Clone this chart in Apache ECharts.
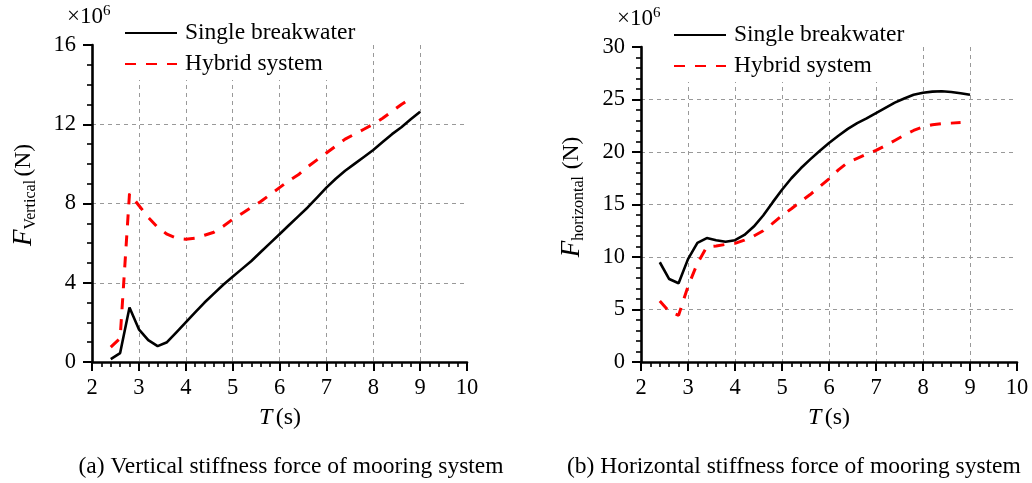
<!DOCTYPE html>
<html>
<head>
<meta charset="utf-8">
<script src="https://cdn.jsdelivr.net/npm/echarts@6/dist/echarts.min.js"></script>
<style>
html,body{margin:0;padding:0;background:#fff;}
#c{width:1032px;height:483px;}
</style>
</head>
<body>
<div id="c"></div>
<script>
// ---- data ----
const periodsV_single = [2.4,2.6,2.8,3.0,3.2,3.4,3.6,3.8,4.0,4.2,4.4,4.6,4.8,5.0,5.2,5.4,5.6,5.8,6.0,6.2,6.4,6.6,6.8,7.0,7.2,7.4,7.6,7.8,8.0,8.2,8.4,8.6,8.8,9.0];
const vertical_single = [0.15,0.45,2.75,1.65,1.1,0.8,1.0,1.5,2.0,2.5,3.0,3.45,3.9,4.3,4.7,5.1,5.55,6.0,6.45,6.9,7.35,7.8,8.3,8.8,9.25,9.65,10.0,10.35,10.7,11.1,11.5,11.85,12.25,12.63];
const periodsV_hybrid = [2.4,2.6,2.8,3.0,3.2,3.4,3.6,3.8,4.0,4.2,4.4,4.6,4.8,5.0,5.2,5.4,5.6,5.8,6.0,6.2,6.4,6.6,6.8,7.0,7.2,7.4,7.6,7.8,8.0,8.2,8.4,8.6,8.8];
const vertical_hybrid = [0.75,1.2,8.5,7.9,7.3,6.8,6.45,6.25,6.2,6.25,6.4,6.55,6.85,7.2,7.5,7.8,8.1,8.45,8.8,9.15,9.45,9.85,10.2,10.55,10.9,11.25,11.5,11.75,12.0,12.3,12.65,13.0,13.3];

const periodsH_single = [2.4,2.6,2.8,3.0,3.2,3.4,3.6,3.8,4.0,4.2,4.4,4.6,4.8,5.0,5.2,5.4,5.6,5.8,6.0,6.2,6.4,6.6,6.8,7.0,7.2,7.4,7.6,7.8,8.0,8.2,8.4,8.6,8.8,9.0];
const horizontal_single = [9.5,7.9,7.5,9.8,11.35,11.8,11.6,11.45,11.6,12.1,12.9,13.95,15.2,16.4,17.5,18.45,19.3,20.1,20.85,21.55,22.2,22.75,23.2,23.7,24.2,24.7,25.1,25.45,25.65,25.75,25.78,25.72,25.6,25.45];
const periodsH_hybrid = [2.4,2.6,2.8,3.0,3.2,3.4,3.6,3.8,4.0,4.2,4.4,4.6,4.8,5.0,5.2,5.4,5.6,5.8,6.0,6.2,6.4,6.6,6.8,7.0,7.2,7.4,7.6,7.8,8.0,8.2,8.4,8.6,8.8];
const horizontal_hybrid = [5.8,4.8,4.45,7.2,9.4,10.95,11.05,11.2,11.3,11.6,12.0,12.5,13.2,13.95,14.6,15.3,15.95,16.7,17.45,18.3,19.0,19.4,19.8,20.15,20.6,21.1,21.6,22.05,22.4,22.6,22.7,22.75,22.8];

const seriesNames = ['Single breakwater','Hybrid system'];
const xTicks = {min:2, max:10, interval:1};
const yTicksV = {min:0, max:16, interval:4};
const yTicksH = {min:0, max:30, interval:5};
const captions = ['(a) Vertical stiffness force of mooring system','(b) Horizontal stiffness force of mooring system'];

// ---- chart ----
const FONT = '"Liberation Serif","Times New Roman",serif';
const zip = (xs, ys) => xs.map((x,i)=>[x, ys[i]]);

function xAxisCfg(gi){
  return {
    type:'value', gridIndex:gi, min:xTicks.min, max:xTicks.max, interval:xTicks.interval,
    axisLine:{show:true, onZero:false, lineStyle:{color:'#000', width:2.6}},
    axisTick:{show:true, inside:false, length:9, lineStyle:{color:'#000', width:2}},
    minorTick:{show:true, splitNumber:5, length:5, lineStyle:{color:'#000', width:1.6}},
    axisLabel:{color:'#000', fontFamily:FONT, fontSize:22.5, margin:15},
    splitLine:{show:true, showMinLine:false, showMaxLine:false, lineStyle:{color:'#999', type:[4,4], width:1}}
  };
}
function yAxisCfg(gi, t, minorSplit){
  return {
    type:'value', gridIndex:gi, min:t.min, max:t.max, interval:t.interval,
    axisLine:{show:true, onZero:false, lineStyle:{color:'#000', width:2.6}},
    axisTick:{show:true, inside:false, length:9, lineStyle:{color:'#000', width:2}},
    minorTick:{show:true, splitNumber:minorSplit, length:5, lineStyle:{color:'#000', width:1.6}},
    axisLabel:{color:'#000', fontFamily:FONT, fontSize:22.5, margin:16},
    splitLine:{show:true, showMinLine:false, showMaxLine:false, lineStyle:{color:'#999', type:[4,4], width:1}}
  };
}
function lineSeries(name, gi, data, dashed){
  return {
    name, type:'line', xAxisIndex:gi, yAxisIndex:gi, data, symbol:'none', showSymbol:false, smooth:false,
    lineStyle: dashed ? {color:'#ff0000', width:3, type:[11,10]} : {color:'#000', width:2.6},
    itemStyle:{color: dashed ? '#ff0000' : '#000'},
    z:3
  };
}
function legendCfg(left, top){
  return {
    orient:'vertical', left, top, data:seriesNames,
    itemWidth:52, itemHeight:14, itemGap:7,
    backgroundColor:'#fff', padding:[4,8,4,4],
    itemStyle:{opacity:0, borderWidth:0},
    textStyle:{fontFamily:FONT, fontSize:23.5, color:'#000', lineHeight:23, padding:[0,0,0,3]},
    z:10
  };
}
const richBase = {
  F:{fontFamily:FONT, fontStyle:'italic', fontSize:27, color:'#000', lineHeight:30},
  sub:{fontFamily:FONT, fontSize:16, color:'#000', verticalAlign:'bottom', lineHeight:16},
  n:{fontFamily:FONT, fontSize:23.5, color:'#000', lineHeight:30}
};
const richSci = {
  m:{fontFamily:FONT, fontSize:23, color:'#000', lineHeight:26},
  sup:{fontFamily:FONT, fontSize:15, color:'#000', verticalAlign:'top', lineHeight:15}
};
const richT = {
  T:{fontFamily:FONT, fontStyle:'italic', fontSize:24, color:'#000'},
  n:{fontFamily:FONT, fontSize:24, color:'#000'}
};

const chart = echarts.init(document.getElementById('c'), null, {renderer:'canvas'});
chart.setOption({
  animation:false,
  backgroundColor:'#fff',
  grid:[
    {left:92, right:565, top:45, bottom:121, containLabel:false},
    {left:641, right:15, top:47, bottom:121, containLabel:false}
  ],
  xAxis:[xAxisCfg(0), xAxisCfg(1)],
  yAxis:[yAxisCfg(0, yTicksV, 4), yAxisCfg(1, yTicksH, 5)],
  legend:[legendCfg(120, 17), legendCfg(669, 19)],
  series:[
    lineSeries(seriesNames[0], 0, zip(periodsV_single, vertical_single), false),
    lineSeries(seriesNames[1], 0, zip(periodsV_hybrid, vertical_hybrid), true),
    lineSeries(seriesNames[0], 1, zip(periodsH_single, horizontal_single), false),
    lineSeries(seriesNames[1], 1, zip(periodsH_hybrid, horizontal_hybrid), true)
  ],
  graphic:[
    {type:'text', x:24, y:195, rotation:Math.PI/2, z:20,
     style:{text:'{F|F}{sub|Vertical} {n|(N)}', rich:richBase, align:'center', verticalAlign:'middle'}},
    {type:'text', x:572, y:197, rotation:Math.PI/2, z:20,
     style:{text:'{F|F}{sub|horizontal}  {n|(N)}', rich:richBase, align:'center', verticalAlign:'middle'}},
    {type:'text', x:67, y:17, z:20,
     style:{text:'{m|×10}{sup|6}', rich:richSci, align:'left', verticalAlign:'middle'}},
    {type:'text', x:617, y:19, z:20,
     style:{text:'{m|×10}{sup|6}', rich:richSci, align:'left', verticalAlign:'middle'}},
    {type:'text', x:280, y:418, z:20,
     style:{text:'{T|T} {n|(s)}', rich:richT, align:'center', verticalAlign:'middle'}},
    {type:'text', x:829, y:418, z:20,
     style:{text:'{T|T} {n|(s)}', rich:richT, align:'center', verticalAlign:'middle'}},
    {type:'text', x:291, y:467, z:20,
     style:{text:captions[0], fontFamily:FONT, fontSize:23.5, fill:'#000', align:'center', verticalAlign:'middle'}},
    {type:'text', x:567, y:467, z:20,
     style:{text:captions[1], fontFamily:FONT, fontSize:23.5, fill:'#000', align:'left', verticalAlign:'middle'}}
  ]
});
</script>
</body>
</html>
